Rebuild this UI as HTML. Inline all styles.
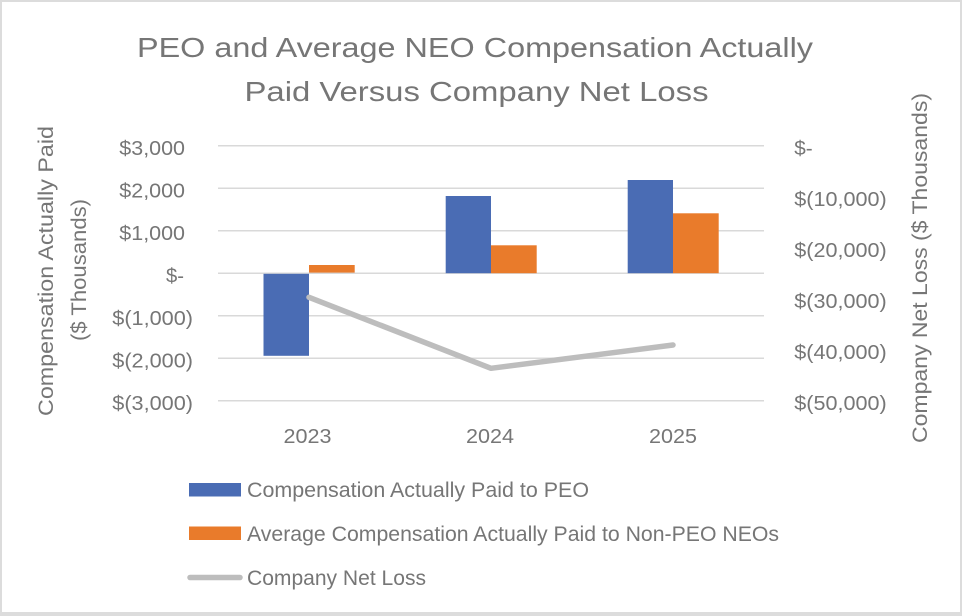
<!DOCTYPE html>
<html>
<head>
<meta charset="utf-8">
<style>
  html, body { margin: 0; padding: 0; background: #ffffff; }
  body { width: 962px; height: 616px; overflow: hidden; }
  svg { display: block; }
  text { font-family: "Liberation Sans", "DejaVu Sans", sans-serif; fill: #767676; }
</style>
</head>
<body>
<svg width="962" height="616" viewBox="0 0 962 616" xmlns="http://www.w3.org/2000/svg">
  <!-- background and border -->
  <rect x="0" y="0" width="962" height="616" fill="#ffffff"/>
  <rect x="1" y="1" width="960" height="613" fill="none" stroke="#dcdcdc" stroke-width="2"/>
  <rect x="0" y="612" width="962" height="4" fill="#dcdcdc"/>

  <!-- title -->
  <text x="475" y="57" font-size="28" text-anchor="middle" textLength="676" lengthAdjust="spacingAndGlyphs">PEO and Average NEO Compensation Actually</text>
  <text x="476.5" y="101" font-size="28" text-anchor="middle" textLength="464" lengthAdjust="spacingAndGlyphs">Paid Versus Company Net Loss</text>

  <!-- gridlines -->
  <g stroke="#d9d9d9" stroke-width="1.5">
    <line x1="218" y1="145.7" x2="764" y2="145.7"/>
    <line x1="218" y1="188.2" x2="764" y2="188.2"/>
    <line x1="218" y1="230.7" x2="764" y2="230.7"/>
    <line x1="218" y1="273.2" x2="764" y2="273.2"/>
    <line x1="218" y1="315.7" x2="764" y2="315.7"/>
    <line x1="218" y1="358.2" x2="764" y2="358.2"/>
    <line x1="218" y1="400.7" x2="764" y2="400.7"/>
  </g>

  <!-- bars -->
  <g fill="#4A6CB4">
    <rect x="263.5" y="273.8" width="45.5" height="82"/>
    <rect x="445.7" y="196" width="45.3" height="77.2"/>
    <rect x="627.7" y="180" width="45.3" height="93.2"/>
  </g>
  <g fill="#E97B2B">
    <rect x="309" y="265" width="45.7" height="7.6"/>
    <rect x="491" y="245.3" width="45.7" height="27.9"/>
    <rect x="673" y="213.3" width="45.7" height="59.9"/>
  </g>

  <!-- line series -->
  <polyline points="309,297.3 491,368.3 673,345" fill="none" stroke="#BDBDBD" stroke-width="5.5" stroke-linecap="round" stroke-linejoin="round"/>

  <!-- left tick labels -->
  <g font-size="20">
    <text x="185" y="155.2" text-anchor="end" textLength="65.7" lengthAdjust="spacingAndGlyphs">$3,000</text>
    <text x="185" y="197.7" text-anchor="end" textLength="65.7" lengthAdjust="spacingAndGlyphs">$2,000</text>
    <text x="185" y="240.2" text-anchor="end" textLength="65.7" lengthAdjust="spacingAndGlyphs">$1,000</text>
    <text x="184" y="282.7" text-anchor="end" textLength="18" lengthAdjust="spacingAndGlyphs">$-</text>
    <text x="193" y="325.2" text-anchor="end" textLength="80.7" lengthAdjust="spacingAndGlyphs">$(1,000)</text>
    <text x="193" y="367.7" text-anchor="end" textLength="80.7" lengthAdjust="spacingAndGlyphs">$(2,000)</text>
    <text x="193" y="410.2" text-anchor="end" textLength="80.7" lengthAdjust="spacingAndGlyphs">$(3,000)</text>
  </g>

  <!-- right tick labels -->
  <g font-size="20">
    <text x="794.3" y="155.2" textLength="18.4" lengthAdjust="spacingAndGlyphs">$-</text>
    <text x="794.3" y="206.2" textLength="92.4" lengthAdjust="spacingAndGlyphs">$(10,000)</text>
    <text x="794.3" y="257.2" textLength="92.4" lengthAdjust="spacingAndGlyphs">$(20,000)</text>
    <text x="794.3" y="308.2" textLength="92.4" lengthAdjust="spacingAndGlyphs">$(30,000)</text>
    <text x="794.3" y="359.2" textLength="92.4" lengthAdjust="spacingAndGlyphs">$(40,000)</text>
    <text x="794.3" y="410.2" textLength="92.4" lengthAdjust="spacingAndGlyphs">$(50,000)</text>
  </g>

  <!-- category labels -->
  <g font-size="20" text-anchor="middle">
    <text x="307.5" y="443" textLength="48" lengthAdjust="spacingAndGlyphs">2023</text>
    <text x="490" y="443" textLength="48" lengthAdjust="spacingAndGlyphs">2024</text>
    <text x="673" y="443" textLength="48" lengthAdjust="spacingAndGlyphs">2025</text>
  </g>

  <!-- left axis title -->
  <text transform="translate(53,271) rotate(-90)" font-size="21" text-anchor="middle" textLength="290" lengthAdjust="spacingAndGlyphs">Compensation Actually Paid</text>
  <text transform="translate(86,270) rotate(-90)" font-size="21" text-anchor="middle" textLength="142" lengthAdjust="spacingAndGlyphs">($ Thousands)</text>

  <!-- right axis title -->
  <text transform="translate(927,268) rotate(-90)" font-size="21" text-anchor="middle" textLength="350" lengthAdjust="spacingAndGlyphs">Company Net Loss ($ Thousands)</text>

  <!-- legend -->
  <rect x="189" y="483" width="52" height="13.5" fill="#4A6CB4"/>
  <text x="247" y="497" font-size="21" textLength="342" lengthAdjust="spacingAndGlyphs">Compensation Actually Paid to PEO</text>

  <rect x="189" y="526.5" width="52" height="13.5" fill="#E97B2B"/>
  <text x="247" y="541" font-size="21" textLength="532" lengthAdjust="spacingAndGlyphs">Average Compensation Actually Paid to Non-PEO NEOs</text>

  <line x1="190" y1="577.5" x2="240" y2="577.5" stroke="#BDBDBD" stroke-width="5.5" stroke-linecap="round"/>
  <text x="247" y="585" font-size="21" textLength="179" lengthAdjust="spacingAndGlyphs">Company Net Loss</text>
</svg>
</body>
</html>
